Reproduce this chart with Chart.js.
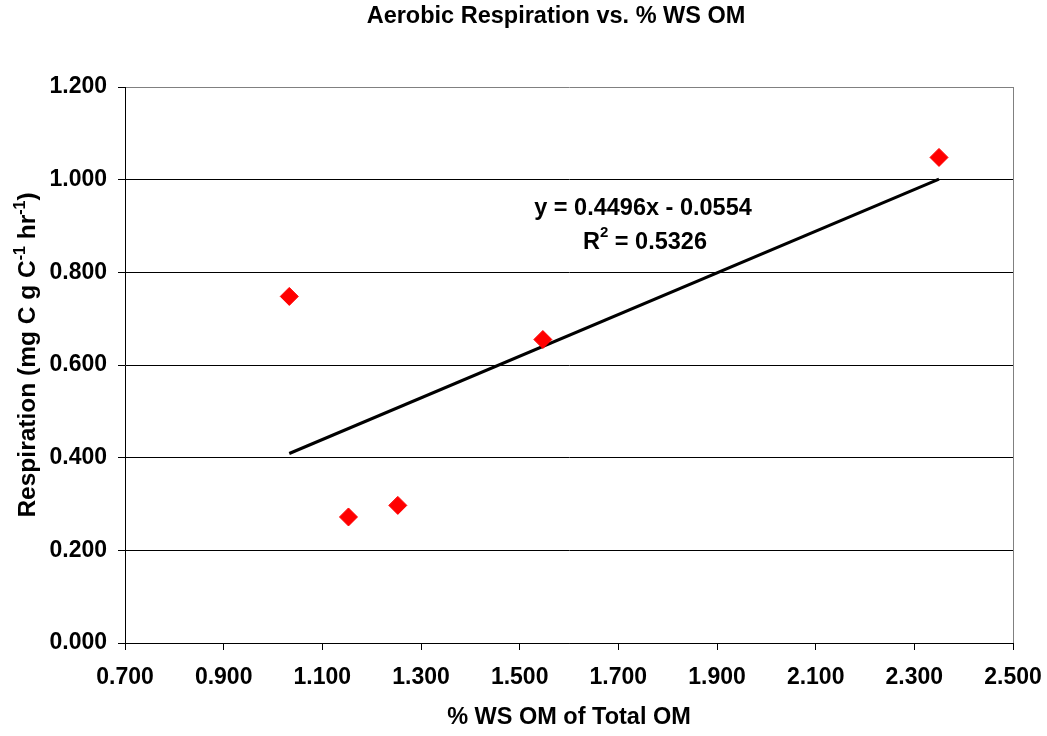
<!DOCTYPE html>
<html>
<head>
<meta charset="utf-8">
<script src="https://cdn.jsdelivr.net/npm/chart.js@4.4.0/dist/chart.umd.min.js"></script>
<style>
  html, body { margin: 0; padding: 0; background: #fff; }
  #wrap { width: 1047px; height: 736px; }
</style>
</head>
<body>
<div id="wrap"><canvas id="grafico" width="1047" height="736"></canvas></div>
<script>
// data
const omPercent = [1.033, 1.153, 1.253, 1.547, 2.350];
const respiration = [0.748, 0.272, 0.297, 0.655, 1.048];
const trendX = [1.033, 2.350];
const trendY = [0.409, 1.001];
const xTicks = [0.7, 0.9, 1.1, 1.3, 1.5, 1.7, 1.9, 2.1, 2.3, 2.5];
const yTicks = [0, 0.2, 0.4, 0.6, 0.8, 1.0, 1.2];
const chartTitle = 'Aerobic Respiration vs. % WS OM';
const xTitle = '% WS OM of Total OM';
const equationText = 'y = 0.4496x - 0.0554';
const rSquaredText = '= 0.5326';

const FONT = "'Liberation Sans', Arial, sans-serif";
const BIG = 'bold 23.5px ' + FONT;
const SMALL = 'bold 15px ' + FONT;
const YBIG = 'bold 24.5px ' + FONT;
const YSMALL = 'bold 16px ' + FONT;

const textosPlugin = {
  id: 'textos',
  afterDraw(chart) {
    const ctx = chart.ctx;
    ctx.save();
    ctx.fillStyle = '#000';

    // chart title
    ctx.font = BIG;
    ctx.textAlign = 'center';
    ctx.textBaseline = 'middle';
    ctx.fillText(chartTitle, 556, 17);

    // x axis title
    ctx.fillText(xTitle, 569, 718);

    // y axis title with superscripts
    const parts = [
      ['Respiration (mg C g C', false],
      ['-1', true],
      [' hr', false],
      ['-1', true],
      [')', false]
    ];
    let total = 0;
    parts.forEach(p => { ctx.font = p[1] ? YSMALL : YBIG; total += ctx.measureText(p[0]).width; });
    ctx.translate(27, 355);
    ctx.rotate(-Math.PI / 2);
    ctx.textAlign = 'left';
    ctx.textBaseline = 'alphabetic';
    let pos = -total / 2;
    parts.forEach(p => {
      ctx.font = p[1] ? YSMALL : YBIG;
      ctx.fillText(p[0], pos, p[1] ? -2 : 8);
      pos += ctx.measureText(p[0]).width;
    });
    ctx.restore();

    // trendline equation
    ctx.save();
    ctx.fillStyle = '#000';
    ctx.font = BIG;
    ctx.textAlign = 'center';
    ctx.textBaseline = 'middle';
    ctx.fillText(equationText, 643, 209);
    const rW = ctx.measureText('R').width;
    ctx.font = SMALL;
    const sW = ctx.measureText('2').width;
    ctx.font = BIG;
    const eqW = ctx.measureText(' ' + rSquaredText).width;
    const fullW = rW + sW + eqW;
    const x0 = 645 - fullW / 2;
    ctx.textAlign = 'left';
    ctx.fillText('R', x0, 243);
    ctx.font = SMALL;
    ctx.fillText('2', x0 + rW, 233);
    ctx.font = BIG;
    ctx.fillText(' ' + rSquaredText, x0 + rW + sW, 243);
    ctx.restore();
  }
};

const ctx = document.getElementById('grafico').getContext('2d');
new Chart(ctx, {
  type: 'scatter',
  data: {
    datasets: [
      {
        label: 'Respiration',
        data: omPercent.map((x, i) => ({ x: x, y: respiration[i] })),
        pointStyle: 'rectRot',
        pointRadius: 9,
        pointHoverRadius: 9,
        backgroundColor: '#ff0000',
        borderColor: '#ff0000',
        borderWidth: 1,
        order: 1
      },
      {
        label: 'Trend',
        type: 'line',
        data: trendX.map((x, i) => ({ x: x, y: trendY[i] })),
        borderColor: '#000',
        borderWidth: 3,
        pointRadius: 0,
        fill: false,
        order: 2
      }
    ]
  },
  options: {
    responsive: false,
    animation: false,
    layout: { padding: { top: 87, right: 34, left: 0, bottom: 0 } },
    plugins: {
      legend: { display: false },
      title: { display: false },
      tooltip: { enabled: false }
    },
    scales: {
      x: {
        type: 'linear',
        min: 0.7,
        max: 2.5,
        afterBuildTicks: s => { s.ticks = xTicks.map(v => ({ value: v })); },
        afterFit: s => { s.height = 93; s.paddingLeft = 0; s.paddingRight = 0; },
        ticks: {
          color: '#000',
          font: { family: FONT, size: 23, weight: 'bold' },
          padding: 14,
          maxRotation: 0,
          callback: v => Number(v).toFixed(3)
        },
        grid: {
          color: c => (c.tick && c.tick.value === 2.5) ? '#808080' : 'rgba(0,0,0,0)',
          tickColor: '#000',
          tickLength: 7,
          lineWidth: 1
        },
        border: { color: '#000', width: 1 }
      },
      y: {
        type: 'linear',
        min: 0,
        max: 1.2,
        afterBuildTicks: s => { s.ticks = yTicks.map(v => ({ value: v })); },
        afterFit: s => { s.width = 125; s.paddingTop = 0; s.paddingBottom = 0; },
        ticks: {
          color: '#000',
          font: { family: FONT, size: 23, weight: 'bold' },
          padding: 11,
          callback: v => Number(v).toFixed(3)
        },
        grid: {
          color: c => (c.tick && Math.abs(c.tick.value - 1.2) < 1e-9) ? '#808080' : '#000',
          tickColor: '#000',
          tickLength: 7,
          lineWidth: 1
        },
        border: { color: '#000', width: 1 }
      }
    }
  },
  plugins: [textosPlugin]
});
</script>
</body>
</html>
